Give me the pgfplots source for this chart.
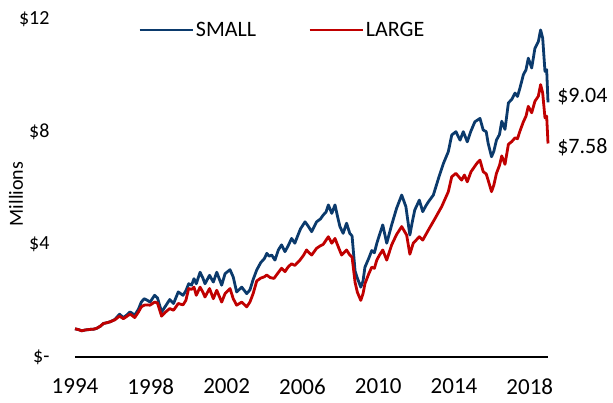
\documentclass[border=0pt]{standalone}
\usepackage{fontspec}
\setmainfont{Carlito}
\usepackage{pgfplots}
\pgfplotsset{compat=1.18}
\definecolor{cSmall}{HTML}{0B3A6C}
\definecolor{cLarge}{HTML}{C00000}

\pgfplotstableread{
yr val
1994.00 1.00
1994.20 0.97
1994.35 0.93
1994.55 0.96
1994.80 0.98
1995.00 0.99
1995.15 1.02
1995.35 1.10
1995.50 1.19
1995.70 1.22
1995.85 1.25
1996.10 1.33
1996.35 1.52
1996.55 1.40
1996.75 1.50
1996.90 1.60
1997.00 1.56
1997.15 1.48
1997.35 1.70
1997.50 1.95
1997.65 2.07
1997.80 2.02
1997.96 1.95
1998.20 2.19
1998.35 2.10
1998.57 1.60
1998.75 1.78
1999.00 2.04
1999.20 1.90
1999.45 2.31
1999.70 2.19
1999.85 2.35
2000.00 2.60
2000.15 2.55
2000.28 2.78
2000.40 2.60
2000.60 3.01
2000.75 2.80
2000.86 2.60
2001.10 2.90
2001.30 2.66
2001.48 3.01
2001.74 2.55
2001.92 2.96
2002.18 3.10
2002.35 2.84
2002.53 2.31
2002.80 2.48
2003.06 2.25
2003.23 2.38
2003.40 2.75
2003.59 3.09
2003.80 3.35
2004.00 3.50
2004.12 3.68
2004.25 3.58
2004.38 3.62
2004.55 3.44
2004.73 3.80
2004.90 3.98
2005.08 3.74
2005.25 3.95
2005.43 4.21
2005.60 4.04
2005.75 4.30
2005.90 4.55
2006.14 4.80
2006.30 4.65
2006.49 4.45
2006.60 4.60
2006.75 4.80
2006.95 4.90
2007.10 5.04
2007.25 5.15
2007.37 5.40
2007.55 5.10
2007.72 5.40
2007.85 5.00
2007.98 4.63
2008.15 4.39
2008.33 4.75
2008.50 4.39
2008.62 4.30
2008.78 3.05
2008.90 2.80
2009.08 2.48
2009.20 2.70
2009.30 3.19
2009.50 3.50
2009.66 3.78
2009.80 3.70
2009.92 4.02
2010.05 4.30
2010.24 4.69
2010.45 4.04
2010.71 4.69
2010.97 5.28
2011.24 5.75
2011.46 5.34
2011.67 4.33
2011.80 4.80
2011.93 5.22
2012.17 5.57
2012.35 5.16
2012.50 5.35
2012.65 5.51
2012.91 5.75
2013.18 6.34
2013.44 6.87
2013.70 7.29
2013.88 7.88
2014.10 8.00
2014.32 7.70
2014.49 8.00
2014.70 7.64
2014.88 8.00
2015.10 8.35
2015.37 8.47
2015.54 8.06
2015.70 8.00
2015.80 7.59
2015.98 7.11
2016.10 7.30
2016.24 7.70
2016.40 7.90
2016.52 8.37
2016.69 8.08
2016.87 9.02
2017.05 9.15
2017.22 9.37
2017.35 9.25
2017.48 9.55
2017.66 10.02
2017.80 10.20
2017.92 10.61
2018.10 10.26
2018.27 10.96
2018.45 11.20
2018.57 11.61
2018.68 11.32
2018.80 10.14
2018.89 10.20
2018.96 9.04
}\smalltab

\pgfplotstableread{
yr val
1994.00 1.00
1994.20 0.97
1994.35 0.93
1994.55 0.96
1994.80 0.98
1995.00 0.99
1995.15 1.02
1995.35 1.10
1995.50 1.19
1995.70 1.22
1995.85 1.25
1996.10 1.32
1996.35 1.45
1996.55 1.36
1996.75 1.45
1996.90 1.52
1997.00 1.48
1997.15 1.40
1997.35 1.60
1997.50 1.78
1997.65 1.84
1997.80 1.85
1997.96 1.84
1998.20 1.95
1998.35 1.92
1998.57 1.45
1998.75 1.58
1999.00 1.72
1999.20 1.66
1999.45 1.90
1999.70 1.85
1999.85 2.01
2000.00 2.43
2000.15 2.40
2000.28 2.48
2000.40 2.19
2000.60 2.48
2000.75 2.30
2000.86 2.13
2001.10 2.43
2001.30 2.07
2001.48 2.37
2001.74 1.95
2001.92 2.25
2002.18 2.43
2002.35 2.07
2002.53 1.84
2002.80 1.95
2003.06 1.78
2003.23 1.95
2003.40 2.25
2003.59 2.70
2003.80 2.80
2004.00 2.85
2004.12 2.91
2004.30 2.82
2004.50 2.79
2004.73 3.00
2004.90 3.15
2005.08 3.03
2005.25 3.20
2005.43 3.31
2005.60 3.25
2005.87 3.44
2006.05 3.60
2006.22 3.80
2006.35 3.70
2006.49 3.62
2006.75 3.86
2006.95 3.95
2007.10 4.00
2007.37 4.27
2007.55 4.04
2007.72 4.21
2007.90 3.90
2008.07 3.62
2008.33 3.80
2008.50 3.62
2008.62 3.55
2008.78 2.65
2008.90 2.30
2009.08 2.01
2009.20 2.25
2009.30 2.60
2009.50 2.95
2009.66 3.19
2009.80 3.15
2009.92 3.43
2010.05 3.60
2010.24 3.80
2010.45 3.44
2010.71 3.98
2010.97 4.35
2011.24 4.63
2011.50 4.33
2011.67 3.65
2011.85 4.04
2012.17 4.27
2012.35 4.15
2012.65 4.51
2013.00 4.92
2013.35 5.34
2013.70 5.87
2013.88 6.40
2014.10 6.52
2014.40 6.28
2014.55 6.46
2014.70 6.22
2014.90 6.58
2015.20 6.87
2015.37 6.99
2015.54 6.58
2015.70 6.50
2015.80 6.28
2015.98 5.87
2016.10 6.10
2016.24 6.52
2016.40 6.80
2016.52 7.14
2016.69 6.84
2016.87 7.55
2017.05 7.65
2017.22 7.78
2017.35 7.75
2017.48 8.02
2017.66 8.35
2017.80 8.55
2017.92 8.90
2018.10 8.67
2018.27 9.08
2018.45 9.26
2018.57 9.67
2018.68 9.37
2018.80 8.49
2018.89 8.55
2018.96 7.58
}\largetab

\begin{document}
\begin{tikzpicture}
\useasboundingbox (-75pt,-45pt) rectangle (538pt,357pt);
\begin{axis}[
    scale only axis, width=473pt, height=338pt,
    xmin=1994, xmax=2018.96, ymin=0, ymax=12,
    clip=false,
    axis x line*=bottom, axis y line*=left,
    y axis line style={draw=none},
    x axis line style={black, line width=1.5pt},
    major tick length=0pt,
    xtick={1994,1998,2002,2006,2010,2014,2018},
    xticklabels={1994,1998,2002,2006,2010,2014,2018},
    ytick={0,4,8,12}, yticklabels={\$-,\$4,\$8,\$12},
    xticklabel style={font=\fontsize{23}{27}\selectfont, yshift=-18pt},
    yticklabel style={font=\fontsize{20}{24}\selectfont, xshift=-22pt},
    ylabel={Millions},
    ylabel style={font=\fontsize{20}{24}\selectfont, at={(axis description cs:-0.1247,0.482)}, anchor=center},
    legend columns=2,
    legend style={draw=none, fill=none, inner sep=0pt, at={(axis description cs:0.1332,0.9675)}, anchor=west,
        font=\fontsize{22}{26}\selectfont,
        /tikz/every even column/.append style={column sep=50pt}},
    legend image code/.code={\draw[#1, line width=2.8pt] (0pt,0pt) -- (53pt,0pt);},
    every axis plot/.append style={line width=2.8pt, line join=round},
]
\addplot[color=cSmall] table[x=yr, y=val] {\smalltab};
\addlegendentry{SMALL}
\addplot[color=cLarge] table[x=yr, y=val] {\largetab};
\addlegendentry{LARGE}
\node[anchor=west, inner sep=0pt, font=\fontsize{22}{26}\selectfont] at (axis cs:2019.44,9.23) {\$9.04};
\node[anchor=west, inner sep=0pt, font=\fontsize{22}{26}\selectfont] at (axis cs:2019.44,7.45) {\$7.58};
\end{axis}
\end{tikzpicture}
\end{document}
